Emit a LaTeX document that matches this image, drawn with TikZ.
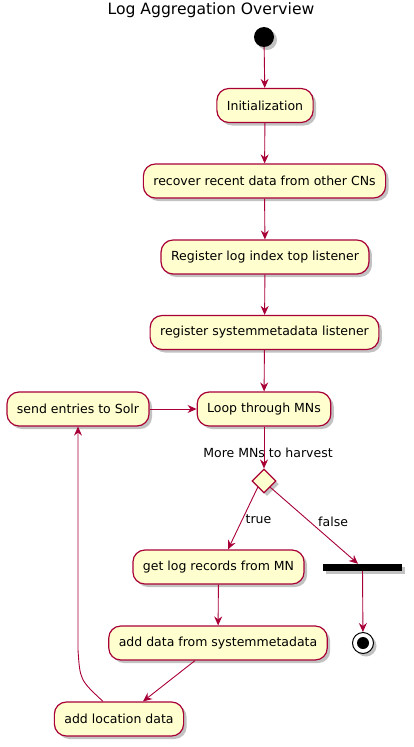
\documentclass[tikz,border=0pt]{standalone}
\usepackage{fontspec}
\setmainfont{DejaVu Sans}
\usetikzlibrary{shapes.geometric,shadows,arrows.meta}
\definecolor{actfill}{HTML}{FEFECE}
\definecolor{actline}{HTML}{A80036}
\begin{document}
\begin{tikzpicture}[x=1pt,y=-1pt,
  shade/.style={drop shadow={shadow xshift=3pt,shadow yshift=-3pt,opacity=0.4,fill=black!60}},
  act/.style={draw=actline,fill=actfill,line width=1.2pt,rounded corners=12pt,
    minimum height=34pt,inner xsep=10pt,font=\fontsize{12.5}{15}\selectfont,shade},
  flow/.style={draw=actline,line width=0.9pt,-{Stealth[length=9pt,width=8pt,inset=3pt]}},
  lbl/.style={font=\fontsize{12.5}{15}\selectfont,inner sep=1pt}]
\useasboundingbox (0,0) rectangle (414,747);
\node[font=\fontsize{15.6}{18}\selectfont] (title) at (211,10) {Log Aggregation Overview};
\node[circle,fill=black,minimum size=20pt,inner sep=0pt,shade] (start) at (264,37) {};
\node[act] (init) at (265,105.5) {Initialization};
\node[act] (recover) at (264.5,181) {recover recent data from other CNs};
\node[act] (reglog) at (265,257) {Register log index top listener};
\node[act] (regsys) at (264.5,332.5) {register systemmetadata listener};
\node[act] (solr) at (78,409) {send entries to Solr};
\node[act] (loop) at (264,409) {Loop through MNs};
\node[diamond,draw=actline,fill=actfill,line width=1.2pt,minimum width=24pt,minimum height=24pt,inner sep=0pt,shade] (dec) at (264,481) {};
\node[lbl] (declbl) at (268,453) {More MNs to harvest};
\node[act] (getlog) at (218.5,567) {get log records from MN};
\node[fill=black,minimum width=79pt,minimum height=7pt,inner sep=0pt,shade] (bar) at (362.5,567.5) {};
\node[act] (adddata) at (218,643) {add data from systemmetadata};
\node[act] (addloc) at (119,719) {add location data};
\node[circle,draw=black,fill=white,line width=1pt,minimum size=21pt,inner sep=0pt,shade] (stop) at (363,643) {};
\node[circle,fill=black,minimum size=12pt,inner sep=0pt] (stopdot) at (stop.center) {};
\coordinate (bend) at (78,650);
\draw[flow] (start) -- (init);
\draw[flow] (init) -- (recover);
\draw[flow] (recover) -- (reglog);
\draw[flow] (reglog) -- (regsys);
\draw[flow] (regsys) -- (loop);
\draw[flow] (solr) -- (loop);
\draw[flow] (loop) -- (dec);
\draw[flow] (dec.south west) -- node[lbl,right=2pt,pos=0.52] {true} (getlog.north -| 228,0);
\draw[flow] (dec.south east) -- node[lbl,right=7pt,pos=0.45] {false} (bar.north -| 358,0);
\draw[flow] (bar) -- (stop);
\draw[flow] (getlog) -- (adddata);
\draw[flow] (adddata.south -| 195,0) -- (addloc.north -| 143,0);
\draw[flow] (addloc.north -| 103,0) .. controls (80,680) .. (bend) -- (solr.south);
\end{tikzpicture}
\end{document}
